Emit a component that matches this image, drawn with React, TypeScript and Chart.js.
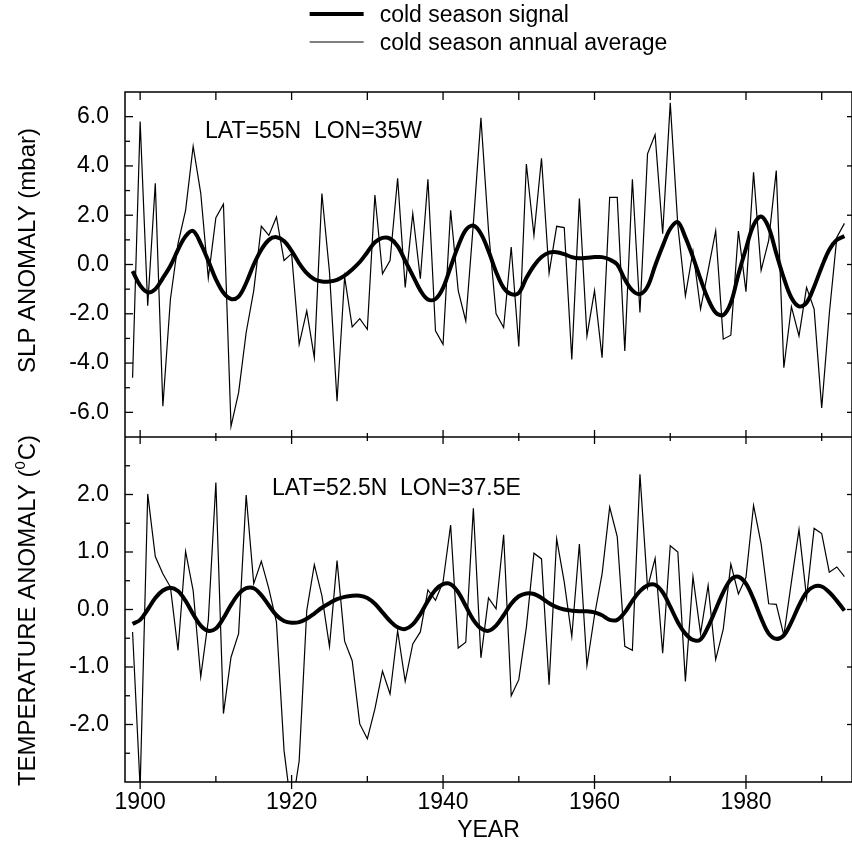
import React, { useEffect, useRef } from 'react';
import { Chart, registerables } from 'chart.js';

Chart.register(...registerables);

const FONT = "'Liberation Sans', Arial, Helvetica, sans-serif";
const INK = '#000000';

// Years 1899 .. 1993 (x categories)
const firstYear = 1899;
const lastYear = 1993;
const years: number[] = [];
for (let y = firstYear; y <= lastYear; y++) years.push(y);

// SLP anomaly (mbar), LAT=55N LON=35W
const slpAnnual = [
  -4.6, 5.8, -1.67, 3.3, -5.75, -1.4, 0.85, 2.2, 4.8, 2.9, // 1899-1908
  -0.55, 1.9, 2.45, -6.57, -5.2, -2.76, -1.06, 1.55, 1.18, 1.93, // 1909-1918
  0.16, 0.44, -3.24, -1.88, -3.78, 2.88, -0.3, -5.55, -0.5, -2.53, // 1919-1928
  -2.2, -2.63, 2.82, -0.38, 0.16, 3.5, -0.93, 2.07, -0.58, 3.46, // 1929-1938
  -2.69, -3.24, 2.2, -1.06, -2.29, 1.66, 5.95, 1.39, -2.0, -2.56, // 1939-1948
  0.71, -3.33, 4.08, 1.18, 4.31, -0.35, 1.55, 1.5, -3.85, 2.68, // 1949-1958
  -2.9, -1.06, -3.78, 2.72, 2.72, -3.51, 3.46, -1.95, 4.49, 5.27, // 1959-1968
  1.25, 6.56, 1.59, -1.27, 0.54, -1.81, -0.24, 1.36, -3.03, -2.87, // 1969-1978
  1.36, -1.1, 3.74, -0.24, 0.98, 3.81, -4.19, -1.71, -2.9, -0.93, // 1979-1988
  -1.81, -5.82, -2.01, 1.11, 1.67, // 1989-1993
];
const slpSignal = [
  -0.27, -0.85, -1.13, -1.0, -0.55, -0.05, 0.6, 1.15, 1.36, 0.85, // 1899-1908
  0.15, -0.6, -1.15, -1.4, -1.3, -0.75, 0.0, 0.6, 1.0, 1.11, // 1909-1918
  0.95, 0.55, 0.05, -0.35, -0.6, -0.69, -0.69, -0.62, -0.45, -0.2, // 1919-1928
  0.1, 0.5, 0.9, 1.08, 1.05, 0.75, 0.15, -0.45, -1.05, -1.42, // 1929-1938
  -1.4, -0.95, -0.1, 0.75, 1.4, 1.58, 1.25, 0.55, -0.3, -0.95, // 1939-1948
  -1.2, -1.15, -0.55, -0.05, 0.3, 0.48, 0.5, 0.42, 0.3, 0.25, // 1949-1958
  0.27, 0.3, 0.3, 0.2, 0.0, -0.6, -1.05, -1.2, -0.9, -0.05, // 1959-1968
  0.75, 1.45, 1.72, 1.1, 0.3, -0.6, -1.4, -1.95, -2.05, -1.55, // 1969-1978
  -0.4, 0.65, 1.6, 1.95, 1.5, 0.45, -0.55, -1.35, -1.7, -1.55, // 1979-1988
  -0.9, -0.1, 0.6, 1.0, 1.15, // 1989-1993
];

// Temperature anomaly (C), LAT=52.5N LON=37.5E
const tempAnnual = [
  -0.39, -3.1, 2.01, 0.92, 0.62, 0.39, -0.71, 1.01, 0.33, -1.17, // 1899-1908
  -0.19, 2.21, -1.81, -0.83, -0.42, 1.99, 0.45, 0.84, 0.36, -0.22, // 1909-1918
  -2.45, -3.5, -2.63, -0.02, 0.78, 0.24, -0.64, 0.85, -0.55, -0.89, // 1919-1928
  -1.99, -2.25, -1.73, -1.07, -1.47, -0.37, -1.25, -0.6, -0.39, 0.34, // 1929-1938
  0.16, 0.48, 1.47, -0.67, -0.57, 1.76, -0.84, 0.2, 0.01, 1.3, // 1939-1948
  -1.5, -1.22, -0.31, 0.98, 0.88, -1.31, 1.23, 0.48, -0.47, 1.14, // 1949-1958
  -0.97, -0.1, 0.62, 1.78, 1.27, -0.64, -0.71, 2.35, 0.38, 0.89, // 1959-1968
  -0.76, 1.11, 1.0, -1.25, 0.57, -0.42, 0.42, -0.87, -0.34, 0.79, // 1969-1978
  0.27, 0.56, 1.81, 1.14, 0.1, 0.09, -0.45, 0.48, 1.39, 0.21, // 1979-1988
  1.41, 1.32, 0.65, 0.74, 0.57, // 1989-1993
];
const tempSignal = [
  -0.25, -0.18, 0.0, 0.2, 0.33, 0.38, 0.32, 0.15, -0.08, -0.28, // 1899-1908
  -0.37, -0.33, -0.15, 0.08, 0.27, 0.37, 0.37, 0.25, 0.07, -0.1, // 1909-1918
  -0.2, -0.23, -0.22, -0.16, -0.07, 0.03, 0.11, 0.18, 0.22, 0.24, // 1919-1928
  0.24, 0.2, 0.1, -0.05, -0.2, -0.31, -0.34, -0.26, -0.08, 0.15, // 1929-1938
  0.34, 0.44, 0.44, 0.3, 0.06, -0.18, -0.33, -0.37, -0.28, -0.1, // 1939-1948
  0.1, 0.23, 0.28, 0.27, 0.2, 0.11, 0.04, 0.0, -0.02, -0.03, // 1949-1958
  -0.03, -0.05, -0.1, -0.18, -0.18, -0.05, 0.15, 0.32, 0.42, 0.43, // 1959-1968
  0.3, 0.05, -0.22, -0.42, -0.53, -0.52, -0.3, 0.0, 0.3, 0.52, // 1969-1978
  0.57, 0.45, 0.18, -0.15, -0.42, -0.51, -0.45, -0.22, 0.07, 0.3, // 1979-1988
  0.4, 0.4, 0.3, 0.15, -0.02, // 1989-1993
];

// Axis ticks
const yearLabelTicks = [1900, 1920, 1940, 1960, 1980];
const yearMinorTicks = [1910, 1930, 1950, 1970, 1990];
const slpLabelTicks = [-6, -4, -2, 0, 2, 4, 6];
const slpMinorTicks = [-5, -3, -1, 1, 3, 5];
const tempLabelTicks = [-2, -1, 0, 1, 2];
const tempMinorTicks = [-2.5, -1.5, -0.5, 0.5, 1.5, 2.5];

const xRange = { min: 1898, max: 1994 };
const slpRange = { min: -7, max: 7 };
const tempRange = { min: -3, max: 3 };

const signalLabel = 'cold season signal';
const annualLabel = 'cold season annual average';
const slpTitle = 'SLP ANOMALY (mbar)';
const tempTitleMain = 'TEMPERATURE ANOMALY (';
const tempTitleSup = '0';
const tempTitleEnd = 'C)';
const slpNote = 'LAT=55N  LON=35W';
const tempNote = 'LAT=52.5N  LON=37.5E';
const xTitle = 'YEAR';

const decorPlugin = {
  id: 'decor',
  afterDraw(chart: any) {
    const { ctx, chartArea: ca, scales } = chart;
    const xs = scales.x;
    const ys = scales.yS;
    const yt = scales.yT;
    const seg = (x1: number, y1: number, x2: number, y2: number) => {
      ctx.beginPath();
      ctx.moveTo(x1, y1);
      ctx.lineTo(x2, y2);
      ctx.stroke();
    };
    ctx.save();
    ctx.strokeStyle = INK;
    ctx.fillStyle = INK;
    ctx.lineCap = 'butt';
    ctx.lineWidth = 1.5;
    ctx.strokeRect(ca.left, ca.top, ca.right - ca.left, ca.bottom - ca.top);
    seg(ca.left, ys.bottom, ca.right, ys.bottom);

    ctx.lineWidth = 1.3;
    const yTicks = (scale: any, major: number[], minor: number[]) => {
      major.forEach((v) => {
        const p = scale.getPixelForValue(v);
        seg(ca.left, p, ca.left + 8, p);
        seg(ca.right - 5, p, ca.right, p);
      });
      minor.forEach((v) => {
        const p = scale.getPixelForValue(v);
        seg(ca.left, p, ca.left + 5, p);
      });
    };
    yTicks(ys, slpLabelTicks, slpMinorTicks);
    yTicks(yt, tempLabelTicks, tempMinorTicks);
    yearLabelTicks.forEach((v) => {
      const p = xs.getPixelForValue(v);
      seg(p, ca.top, p, ca.top + 8);
      seg(p, ys.bottom - 7, p, ys.bottom + 7);
      seg(p, ca.bottom - 7, p, ca.bottom + 7);
    });
    yearMinorTicks.forEach((v) => {
      const p = xs.getPixelForValue(v);
      seg(p, ca.top, p, ca.top + 8);
      seg(p, ys.bottom - 4, p, ys.bottom + 4);
      seg(p, ca.bottom - 6, p, ca.bottom);
    });

    // panel notes
    ctx.font = `23px ${FONT}`;
    ctx.textAlign = 'left';
    ctx.textBaseline = 'alphabetic';
    ctx.fillText(slpNote, ca.left + 80, ys.top + 46);
    ctx.fillText(tempNote, ca.left + 147, yt.top + 58);

    // legend (from datasets 0 and 1)
    const ds = chart.data.datasets;
    const rows = [ds[0], ds[1]];
    const lineLen = 54;
    const gap = 16;
    const textW = Math.max(...rows.map((d: any) => ctx.measureText(d.label).width));
    const total = lineLen + gap + textW;
    const cx = (ca.left + ca.right) / 2;
    const lx = cx - total / 2;
    rows.forEach((d: any, i: number) => {
      const yy = 14 + i * 28;
      ctx.lineWidth = d.borderWidth;
      seg(lx, yy, lx + lineLen, yy);
      ctx.fillText(d.label, lx + lineLen + gap, yy + 8);
    });

    // y axis titles
    const titleSize = 24;
    ctx.font = `${titleSize}px ${FONT}`;
    ctx.textBaseline = 'alphabetic';
    const capHalf = titleSize * 0.358;
    ctx.save();
    ctx.translate(26, (ys.top + ys.bottom) / 2 - 14);
    ctx.rotate(-Math.PI / 2);
    ctx.textAlign = 'center';
    ctx.fillText(slpTitle, 0, capHalf);
    ctx.restore();

    ctx.save();
    ctx.translate(26, (yt.top + yt.bottom) / 2 + 1);
    ctx.rotate(-Math.PI / 2);
    ctx.textAlign = 'left';
    ctx.font = `${titleSize}px ${FONT}`;
    const w1 = ctx.measureText(tempTitleMain).width;
    const w3 = ctx.measureText(tempTitleEnd).width;
    ctx.font = `15px ${FONT}`;
    const w2 = ctx.measureText(tempTitleSup).width + 1;
    const start = -(w1 + w2 + w3) / 2;
    ctx.font = `${titleSize}px ${FONT}`;
    ctx.fillText(tempTitleMain, start, capHalf);
    ctx.fillText(tempTitleEnd, start + w1 + w2, capHalf);
    ctx.font = `15px ${FONT}`;
    ctx.fillText(tempTitleSup, start + w1, capHalf - 10);
    ctx.restore();

    ctx.restore();
  },
};

export default function App() {
  const ref = useRef<HTMLCanvasElement>(null);
  useEffect(() => {
    document.body.style.margin = '0';
    const canvas = ref.current;
    if (!canvas) return;
    const pts = (vals: number[]) => vals.map((v, i) => ({ x: years[i], y: v }));
    const thick = { borderColor: INK, borderWidth: 4, pointRadius: 0, tension: 0.35, fill: false };
    const thin = { borderColor: INK, borderWidth: 1.2, pointRadius: 0, tension: 0, fill: false };
    const tickFont = { family: FONT, size: 23 };
    const yScale = (range: any, tickVals: number[]) => ({
      type: 'linear',
      position: 'left',
      stack: 'panels',
      stackWeight: 1,
      min: range.min,
      max: range.max,
      grid: { display: false, drawTicks: false },
      border: { display: false },
      afterBuildTicks: (s: any) => {
        s.ticks = tickVals.map((v) => ({ value: v }));
      },
      afterFit: (s: any) => {
        s.width = 125;
      },
      ticks: {
        padding: 16,
        color: INK,
        font: tickFont,
        autoSkip: false,
        callback: (v: any) => Number(v).toFixed(1),
      },
    });
    const chart = new Chart(canvas, {
      type: 'line',
      data: {
        datasets: [
          { label: signalLabel, data: pts(slpSignal), yAxisID: 'yS', ...thick },
          { label: annualLabel, data: pts(slpAnnual), yAxisID: 'yS', ...thin },
          { label: signalLabel, data: pts(tempSignal), yAxisID: 'yT', ...thick },
          { label: annualLabel, data: pts(tempAnnual), yAxisID: 'yT', ...thin },
        ],
      } as any,
      options: {
        animation: false,
        responsive: false,
        devicePixelRatio: 1,
        events: [],
        layout: { padding: { top: 92, left: 0, right: 0, bottom: 0 } },
        plugins: { legend: { display: false }, tooltip: { enabled: false } },
        scales: {
          x: {
            type: 'linear',
            position: 'bottom',
            min: xRange.min,
            max: xRange.max,
            grid: { display: false, drawTicks: false },
            border: { display: false },
            afterBuildTicks: (s: any) => {
              s.ticks = yearLabelTicks.map((v) => ({ value: v }));
            },
            afterFit: (s: any) => {
              s.height = 62;
            },
            ticks: {
              padding: 7,
              color: INK,
              font: tickFont,
              maxRotation: 0,
              autoSkip: false,
              callback: (v: any) => String(v),
            },
            title: {
              display: true,
              text: xTitle,
              color: INK,
              font: { family: FONT, size: 23 },
              padding: { top: 0, bottom: 0 },
            },
          },
          yT: yScale(tempRange, tempLabelTicks),
          yS: yScale(slpRange, slpLabelTicks),
        } as any,
      },
      plugins: [decorPlugin],
    });
    return () => chart.destroy();
  }, []);
  return (
    <div style={{ width: 852, height: 844, background: '#fff' }}>
      <canvas ref={ref} width={852} height={844} style={{ display: 'block' }} />
    </div>
  );
}
